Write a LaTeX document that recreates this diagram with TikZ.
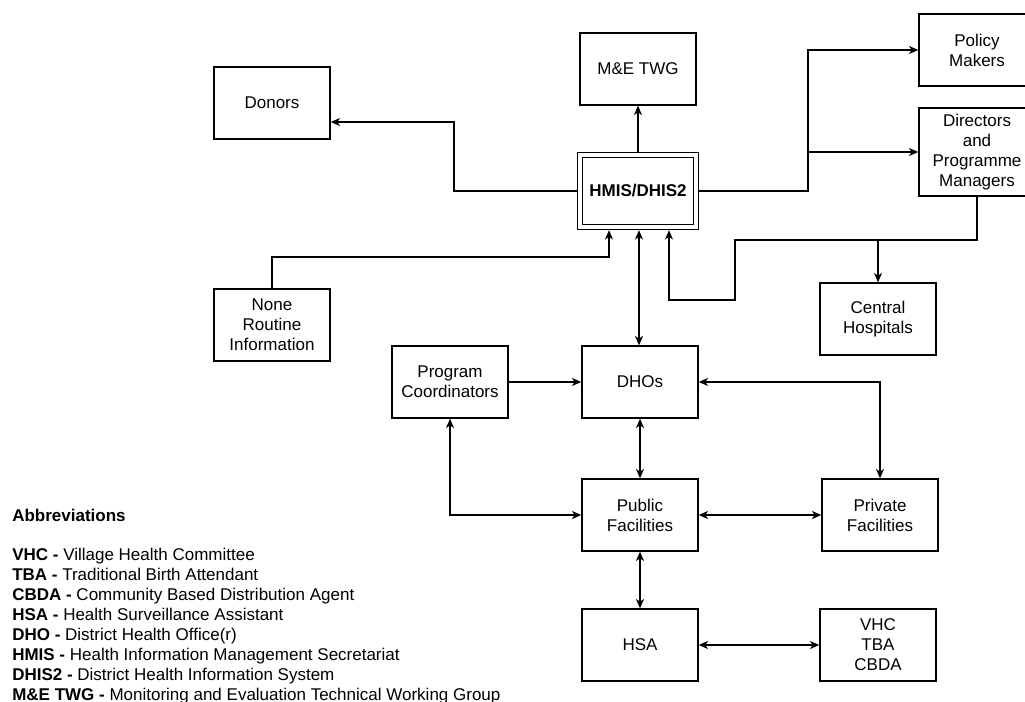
\documentclass[tikz,border=0pt]{standalone}
\usepackage{fontspec}
\setmainfont{Liberation Sans}
\usetikzlibrary{arrows.meta}

\begin{document}
\begin{tikzpicture}[x=0.75pt, y=-0.75pt,
		orgbox/.style={draw, line width=1pt, minimum width=87pt, minimum height=54pt, align=center, inner sep=0pt, font=\fontsize{12.75}{15}\selectfont},
		arr/.style={line width=1pt, -{Stealth[length=7pt,width=6pt,inset=2pt]}},
		biarr/.style={line width=1pt, {Stealth[length=7pt,width=6pt,inset=2pt]}-{Stealth[length=7pt,width=6pt,inset=2pt]}},
		abbr/.style={anchor=base west, inner sep=0pt, font=\fontsize{12.75}{15}\selectfont}]
	\clip (0,0) rectangle (1025,702);
	\node[orgbox] (donors) at (272,103) {Donors};
	\node[orgbox] (metwg) at (638,69) {M\&E TWG};
	\node[orgbox, double, double distance=2.75pt, outer sep=2.4pt, font=\fontsize{12.75}{15}\selectfont\bfseries] (hmis) at (638,191) {HMIS/DHIS2};
	\node[orgbox] (policy) at (977,50) {Policy\\Makers};
	\node[orgbox, minimum height=66pt] (directors) at (977,152) {Directors\\and\\Programme\\Managers};
	\node[orgbox] (central) at (878,319) {Central\\Hospitals};
	\node[orgbox] (nri) at (272,325) {None\\Routine\\Information};
	\node[orgbox] (progco) at (450,382) {Program\\Coordinators};
	\node[orgbox] (dhos) at (640,382) {DHOs};
	\node[orgbox] (public) at (640,515) {Public\\Facilities};
	\node[orgbox] (private) at (880,515) {Private\\Facilities};
	\node[orgbox] (hsa) at (640,645) {HSA};
	\node[orgbox] (vhc) at (878,645) {VHC\\TBA\\CBDA};
	\coordinate (split) at (808,152);
	\coordinate (junc) at (878,240);
	\draw[arr] (hmis.west) -- (454,191) -- (454,122) -- (donors.east |- 0,122);
	\draw[arr] (hmis.north) -- (metwg.south);
	\draw[arr] (hmis.east) -| (split) |- (policy.west);
	\draw[arr] (split) -- (directors.west);
	\draw[line width=1pt] (directors.south) |- (junc);
	\draw[arr] (junc) -- (central.north);
	\draw[arr] (junc) -- (735,240) -- (735,300) -- (669,300) -- (hmis.south -| 669,0);
	\draw[arr] (nri.north) |- (609,257) -- (hmis.south -| 609,0);
	\draw[biarr] (hmis.south -| 639,0) -- (dhos.north -| 639,0);
	\draw[arr] (progco) -- (dhos);
	\draw[biarr] (dhos.east) -| (private.north);
	\draw[biarr] (dhos) -- (public);
	\draw[biarr] (progco.south) |- (public.west);
	\draw[biarr] (public) -- (private);
	\draw[biarr] (public) -- (hsa);
	\draw[biarr] (hsa) -- (vhc);
	\node[abbr, font=\fontsize{12.75}{15}\selectfont\bfseries] (abbrtitle) at (12,521) {Abbreviations};
	\node[abbr] (abbr1) at (12,560) {\textbf{VHC -} Village Health Committee};
	\node[abbr] (abbr2) at (12,580) {\textbf{TBA -} Traditional Birth Attendant};
	\node[abbr] (abbr3) at (12,600) {\textbf{CBDA -} Community Based Distribution Agent};
	\node[abbr] (abbr4) at (12,620) {\textbf{HSA -} Health Surveillance Assistant};
	\node[abbr] (abbr5) at (12,640) {\textbf{DHO -} District Health Office(r)};
	\node[abbr] (abbr6) at (12,660) {\textbf{HMIS -} Health Information Management Secretariat};
	\node[abbr] (abbr7) at (12,680) {\textbf{DHIS2 -} District Health Information System};
	\node[abbr] (abbr8) at (12,700) {\textbf{M\&E TWG -} Monitoring and Evaluation Technical Working Group};
\end{tikzpicture}
\end{document}
